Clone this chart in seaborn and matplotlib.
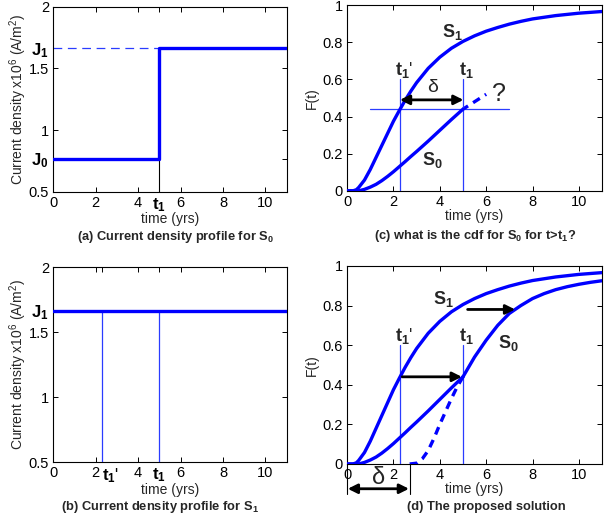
import numpy as np
import pandas as pd
import matplotlib
matplotlib.use("Agg")
import matplotlib.pyplot as plt
import seaborn as sns

# ---------------- data ----------------
t1 = 5.0          # switch time
t1p = 2.3         # equivalent time t1'
delta = 2.7       # shift
J0 = 0.77
J1 = 1.665

# current density profile for S0 (panel a)
step_t = [0.0, 5.0, 5.0, 11.0]
step_J = [J0, J0, J1, J1]
# current density profile for S1 (panel b)
flat_t = [0.0, 11.0]
flat_J = [J1, J1]

# cdf of S1
s1_t = [0.0, 0.25, 0.4, 0.5, 0.75, 1.0, 1.25, 1.5, 1.75, 2.0, 2.25, 2.5, 2.75,
        3.0, 3.5, 4.0, 4.5, 5.0, 5.5, 6.0, 6.5, 7.0, 7.5, 8.0, 9.0, 10.0, 11.0]
s1_F = [0.0, 0.0, 0.006, 0.018, 0.058, 0.115, 0.18, 0.245, 0.31, 0.375, 0.432,
        0.487, 0.537, 0.583, 0.66, 0.72, 0.768, 0.805, 0.835, 0.86, 0.88, 0.898,
        0.913, 0.926, 0.944, 0.957, 0.966]

# cdf of S0 up to t1
s0_t = [0.0, 0.5, 0.75, 1.0, 1.25, 1.5, 1.75, 2.0, 2.25, 2.5, 2.75, 3.0, 3.25,
        3.5, 3.75, 4.0, 4.25, 4.5, 4.75, 5.0]
s0_F = [0.0, 0.0, 0.008, 0.02, 0.035, 0.055, 0.078, 0.103, 0.13, 0.157, 0.185,
        0.212, 0.24, 0.268, 0.297, 0.326, 0.355, 0.384, 0.412, 0.44]

# unknown continuation in panel c
q_t = [5.0, 5.5, 6.0]
q_F = [0.44, 0.48, 0.52]

# proposed S0 after t1 (panel d)
s0b_t = [5.0, 5.5, 6.0, 6.5, 7.0, 7.5, 8.0, 8.5, 9.0, 9.5, 10.0, 10.5, 11.0]
s0b_F = [0.44, 0.54, 0.625, 0.70, 0.76, 0.80, 0.835, 0.86, 0.88, 0.895, 0.907,
         0.917, 0.925]

# shifted S1 (dashed, panel d)
sh_t = [2.7, 3.0, 3.25, 3.5, 3.75, 4.0, 4.25, 4.5, 4.75, 5.0]
sh_F = [0.0, 0.004, 0.027, 0.068, 0.13, 0.2, 0.265, 0.33, 0.39, 0.44]

xticks_main = [0, 2, 4, 6, 8, 10]
yticks_J = [0.5, 1, 1.5, 2]
yticks_F = [0, 0.2, 0.4, 0.6, 0.8, 1]

# ---------------- style ----------------
sns.set_style("ticks")
plt.rcParams['font.family'] = ['Liberation Sans', 'DejaVu Sans']
plt.rcParams['mathtext.fontset'] = 'custom'
plt.rcParams['mathtext.rm'] = 'Liberation Sans'
plt.rcParams['mathtext.it'] = 'Liberation Sans:italic'
plt.rcParams['mathtext.bf'] = 'Liberation Sans:bold'

BLUE = '#0000ff'
THIN = '#2a3cff'
LW = 2.4
TLW = 0.9
TICKFS = 10.5
LABFS = 10
BFS = 12

fig = plt.figure(figsize=(6.1, 5.2), dpi=100)
axA = fig.add_axes([0.087, 0.631, 0.383, 0.356])
axC = fig.add_axes([0.569, 0.633, 0.418, 0.357])
axB = fig.add_axes([0.087, 0.1115, 0.383, 0.375])
axD = fig.add_axes([0.569, 0.1077, 0.418, 0.381])


def frame(ax):
    for s in ax.spines.values():
        s.set_visible(True)
        s.set_linewidth(0.8)
        s.set_color('black')
    ax.tick_params(direction='in', top=True, right=True, length=3.5,
                   width=0.7, labelsize=TICKFS, pad=3, colors='black')
    ax.set_xlim(0, 11)


def line(ax, x, y, **kw):
    df = pd.DataFrame({'x': x, 'y': y})
    sns.lineplot(data=df, x='x', y='y', ax=ax, estimator=None, sort=False, **kw)


bold_t1 = r'$\mathbf{t_1}$'
bold_t1p = r"$\mathbf{t_1}$'"

# ---------- panel (a) ----------
frame(axA)
axA.plot([0, t1], [J1, J1], color=THIN, lw=TLW, linestyle=(0, (7, 4.5)))
axA.plot([t1, t1], [0.5, 0.89], color='black', lw=0.8)
line(axA, step_t, step_J, color=BLUE, lw=LW, zorder=3)
axA.set_ylim(0.5, 2)
axA.set_xticks([0, 2, 4, 5, 6, 8, 10])
axA.set_xticklabels(['0', '2', '4', bold_t1, '6', '8', '10'])
axA.set_yticks([0.5, J0, 1, 1.5, J1, 2])
axA.set_yticklabels(['0.5', r'$\mathbf{J_0}$', '1', '1.5', r'$\mathbf{J_1}$', '2'])
for lab in axA.get_xticklabels()[3:4] + axA.get_yticklabels()[1:2] + axA.get_yticklabels()[4:5]:
    lab.set_fontsize(BFS)
axA.set_xlabel('time (yrs)', fontsize=LABFS, labelpad=-1)
axA.set_ylabel(r'Current density x10$^6$ (A/m$^2$)', fontsize=LABFS, labelpad=0)

# ---------- panel (b) ----------
frame(axB)
axB.plot([t1p, t1p], [0.5, J1], color=THIN, lw=TLW, zorder=3)
axB.plot([t1, t1], [0.5, J1], color=THIN, lw=TLW, zorder=3)
line(axB, flat_t, flat_J, color=BLUE, lw=LW, zorder=3)
axB.set_ylim(0.5, 2)
axB.set_xticks([0, 2, t1p, 4, 5, 6, 8, 10])
axB.set_xticklabels(['0', '2', bold_t1p, '4', bold_t1, '6', '8', '10'])
axB.set_yticks([0.5, 1, 1.5, J1, 2])
axB.set_yticklabels(['0.5', '1', '1.5', r'$\mathbf{J_1}$', '2'])
xl = axB.get_xticklabels()
xl[2].set_fontsize(BFS); xl[2].set_ha('left')
xl[4].set_fontsize(BFS)
axB.get_yticklabels()[3].set_fontsize(BFS)
axB.set_xlabel('time (yrs)', fontsize=LABFS, labelpad=-1)
axB.set_ylabel(r'Current density x10$^6$ (A/m$^2$)', fontsize=LABFS, labelpad=0)

# ---------- panel (c) ----------
frame(axC)
axC.plot([1.0, 7.0], [0.44, 0.44], color=THIN, lw=TLW)
axC.plot([t1p, t1p], [0, 0.6], color=THIN, lw=TLW, zorder=3)
axC.plot([t1, t1], [0, 0.6], color=THIN, lw=TLW, zorder=3)
line(axC, s1_t, s1_F, color=BLUE, lw=LW, zorder=3)
line(axC, s0_t, s0_F, color=BLUE, lw=LW, zorder=3)
line(axC, q_t, q_F, color=BLUE, lw=LW, linestyle=(0.6, (2.4, 1.8)))
axC.set_ylim(0, 1)
axC.set_xticks(xticks_main)
axC.set_yticks(yticks_F)
axC.set_yticklabels(['0', '0.2', '0.4', '0.6', '0.8', '1'])
axC.annotate('', xy=(t1p - 0.02, 0.49), xytext=(t1 + 0.02, 0.49),
             arrowprops=dict(arrowstyle='<|-|>', color='black', lw=2.0,
                             mutation_scale=14, shrinkA=0, shrinkB=0))
axC.text(3.7, 0.51, 'δ', fontsize=14, ha='center', va='bottom')
axC.text(6.55, 0.455, '?', fontsize=18, ha='center', va='bottom')
axC.text(2.45, 0.595, bold_t1p, fontsize=BFS + 1, ha='center', va='bottom')
axC.text(5.15, 0.595, bold_t1, fontsize=BFS + 1, ha='center', va='bottom')
axC.text(4.55, 0.80, r'$\mathbf{S_1}$', fontsize=BFS + 1, ha='center', va='bottom')
axC.text(3.7, 0.11, r'$\mathbf{S_0}$', fontsize=BFS + 1, ha='center', va='bottom')
axC.set_xlabel('time (yrs)', fontsize=LABFS, labelpad=0)
axC.set_ylabel('F(t)', fontsize=LABFS, labelpad=3)

# ---------- panel (d) ----------
frame(axD)
axD.plot([t1p, t1p], [0, 0.6], color=THIN, lw=TLW, zorder=3)
axD.plot([t1, t1], [0, 0.6], color=THIN, lw=TLW, zorder=3)
line(axD, s1_t, s1_F, color=BLUE, lw=LW, zorder=3)
line(axD, s0_t, s0_F, color=BLUE, lw=LW, zorder=3)
line(axD, s0b_t, s0b_F, color=BLUE, lw=LW, zorder=3)
line(axD, sh_t, sh_F, color=BLUE, lw=LW, linestyle=(0, (2.4, 1.8)), zorder=3)
axD.set_ylim(0, 1)
axD.set_xticks(xticks_main)
axD.set_yticks(yticks_F)
axD.set_yticklabels(['0', '0.2', '0.4', '0.6', '0.8', '1'])
axD.annotate('', xy=(t1 - 0.05, 0.44), xytext=(t1p + 0.08, 0.44),
             arrowprops=dict(arrowstyle='-|>', color='black', lw=2.0,
                             mutation_scale=14, shrinkA=0, shrinkB=0))
axD.annotate('', xy=(7.25, 0.78), xytext=(5.2, 0.78),
             arrowprops=dict(arrowstyle='-|>', color='black', lw=2.0,
                             mutation_scale=14, shrinkA=0, shrinkB=0))
axD.plot([0, 0], [0, -0.15], color='black', lw=0.8, clip_on=False)
axD.plot([delta, delta], [0, -0.15], color='black', lw=0.8, clip_on=False)
axD.annotate('', xy=(0.03, -0.125), xytext=(delta - 0.03, -0.125),
             arrowprops=dict(arrowstyle='<|-|>', color='black', lw=2.0,
                             mutation_scale=14, shrinkA=0, shrinkB=0),
             annotation_clip=False)
axD.text(1.35, -0.125, 'δ', fontsize=17, ha='center', va='bottom')
axD.text(2.45, 0.595, bold_t1p, fontsize=BFS + 1, ha='center', va='bottom')
axD.text(5.15, 0.595, bold_t1, fontsize=BFS + 1, ha='center', va='bottom')
axD.text(4.15, 0.78, r'$\mathbf{S_1}$', fontsize=BFS + 1, ha='center', va='bottom')
axD.text(6.95, 0.56, r'$\mathbf{S_0}$', fontsize=BFS + 1, ha='center', va='bottom')
axD.set_xlabel('time (yrs)', fontsize=LABFS, labelpad=0)
axD.set_ylabel('F(t)', fontsize=LABFS, labelpad=3)

# ---------- captions ----------
cap = dict(fontsize=9.3, fontweight='bold', ha='center', va='center')
fig.text(0.288, 0.544, r'(a) Current density profile for $\mathbf{S_0}$', **cap)
fig.text(0.779, 0.546, r'(c) what is the cdf for $\mathbf{S_0}$ for $\mathbf{t}$>$\mathbf{t_1}$?', **cap)
fig.text(0.262, 0.025, r'(b) Current density profile for $\mathbf{S_1}$', **cap)
fig.text(0.798, 0.025, '(d) The proposed solution', **cap)

fig.savefig('out.png', dpi=100)
